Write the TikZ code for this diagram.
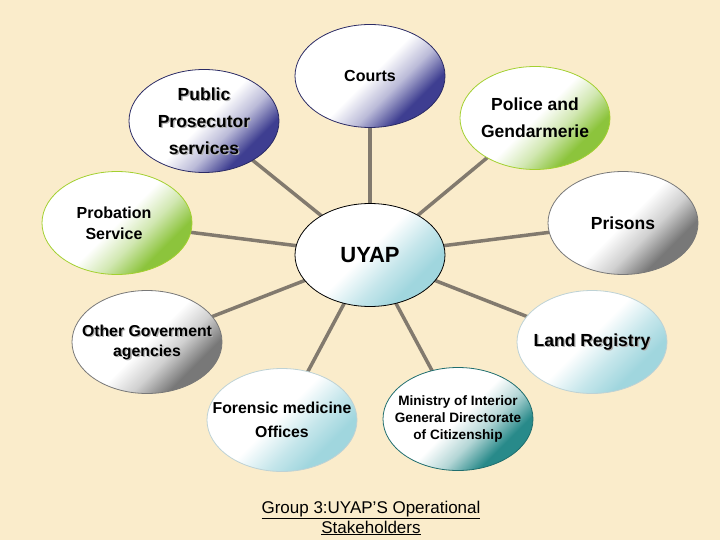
\documentclass[tikz,border=0pt]{standalone}
\usepackage{fontspec}
\setmainfont{Liberation Sans}
\usetikzlibrary{shapes.geometric}
\definecolor{bgcol}{RGB}{250,236,203}
\definecolor{cnavy}{RGB}{62,62,145}
\definecolor{cgreen}{RGB}{140,196,60}
\definecolor{cgray}{RGB}{120,120,120}
\definecolor{ccyan}{RGB}{160,214,222}
\definecolor{cteal}{RGB}{40,138,138}
\definecolor{linecol}{RGB}{130,122,110}
\pgfdeclarehorizontalshading{shnavy}{100bp}{color(0bp)=(white); color(50bp)=(white); color(60bp)=(cnavy!35); color(70bp)=(cnavy); color(100bp)=(cnavy)}
\pgfdeclarehorizontalshading{shgreen}{100bp}{color(0bp)=(white); color(50bp)=(white); color(60bp)=(cgreen!40); color(70bp)=(cgreen); color(100bp)=(cgreen)}
\pgfdeclarehorizontalshading{shgray}{100bp}{color(0bp)=(white); color(50bp)=(white); color(60bp)=(cgray!35); color(70bp)=(cgray); color(100bp)=(cgray)}
\pgfdeclarehorizontalshading{shcyan}{100bp}{color(0bp)=(white); color(48bp)=(white); color(60bp)=(ccyan!60); color(70bp)=(ccyan); color(100bp)=(ccyan)}
\pgfdeclarehorizontalshading{shteal}{100bp}{color(0bp)=(white); color(50bp)=(white); color(60bp)=(cteal!35); color(70bp)=(cteal); color(100bp)=(cteal)}
\pgfdeclarelayer{bg}
\pgfsetlayers{bg,main}
\tikzset{
  bubble/.style={ellipse, minimum width=150pt, minimum height=103pt, inner sep=-40pt,
    align=center, shade, shading angle=-45, line width=0.8pt},
  navyb/.style={bubble, shading=shnavy, draw=cnavy!70!black},
  greenb/.style={bubble, shading=shgreen, draw=cgreen!80!yellow},
  grayb/.style={bubble, shading=shgray, draw=cgray},
  cyanb/.style={bubble, shading=shcyan, draw=ccyan!60!gray!60},
  tealb/.style={bubble, shading=shteal, draw=cteal!80!black},
  conn/.style={draw=linecol, line width=3.5pt},
  big/.style={font=\fontsize{17.5}{27}\selectfont\bfseries},
  mid/.style={font=\fontsize{16}{21}\selectfont\bfseries},
  txtshadow/.style={path picture={\node[align=center, text=black!30, font=#1] at ([shift={(1.3pt,-1.3pt)}]path picture bounding box.center) {\pgfkeysvalueof{/tikz/shtext}};}},
  shtext/.initial={}
}
\begin{document}
\begin{tikzpicture}[x=1pt,y=-1pt]
\useasboundingbox (0,0) rectangle (720,540);
\node[navyb, big] (courts) at (370,76) {\fontsize{16}{20}\selectfont Courts};
\node[navyb, big, shtext={Public\\Prosecutor\\services}, txtshadow={\fontsize{17.5}{27}\selectfont\bfseries}] (pros) at (204,121) {Public\\Prosecutor\\services};
\node[greenb, big] (police) at (535,118) {Police and\\Gendarmerie};
\node[grayb, big] (prisons) at (623,223) {Prisons};
\node[greenb, mid] (probation) at (117,223) {\hspace*{-6pt}Probation\\\hspace*{-6pt}Service};
\node[cyanb, draw=black, font=\fontsize{22}{26}\selectfont\bfseries] (uyap) at (370,255) {UYAP};
\node[grayb, font=\fontsize{15.8}{20}\selectfont\bfseries, shtext={Other Goverment\\agencies}, txtshadow={\fontsize{15.8}{20}\selectfont\bfseries}] (other) at (147,342) {Other Goverment\\agencies};
\node[cyanb, font=\fontsize{15.8}{24}\selectfont\bfseries] (forensic) at (282,420) {Forensic medicine\\Offices};
\node[cyanb, big, shtext={Land Registry}, txtshadow={\fontsize{17.5}{27}\selectfont\bfseries}] (land) at (592,342) {Land Registry};
\node[tealb, font=\fontsize{13.6}{17}\selectfont\bfseries] (ministry) at (458,419) {Ministry of Interior\\General Directorate\\of Citizenship};
\node[align=center, font=\fontsize{17}{20}\selectfont] (caption) at (371,518) {\underline{Group 3:UYAP’S Operational}\\\underline{Stakeholders}};
\begin{pgfonlayer}{bg}
\fill[bgcol] (0,0) rectangle (720,540);
\foreach \n in {courts,pros,police,prisons,probation,other,forensic,land,ministry}
  \draw[conn] (uyap.center) -- (\n.center);
\end{pgfonlayer}
\end{tikzpicture}
\end{document}
